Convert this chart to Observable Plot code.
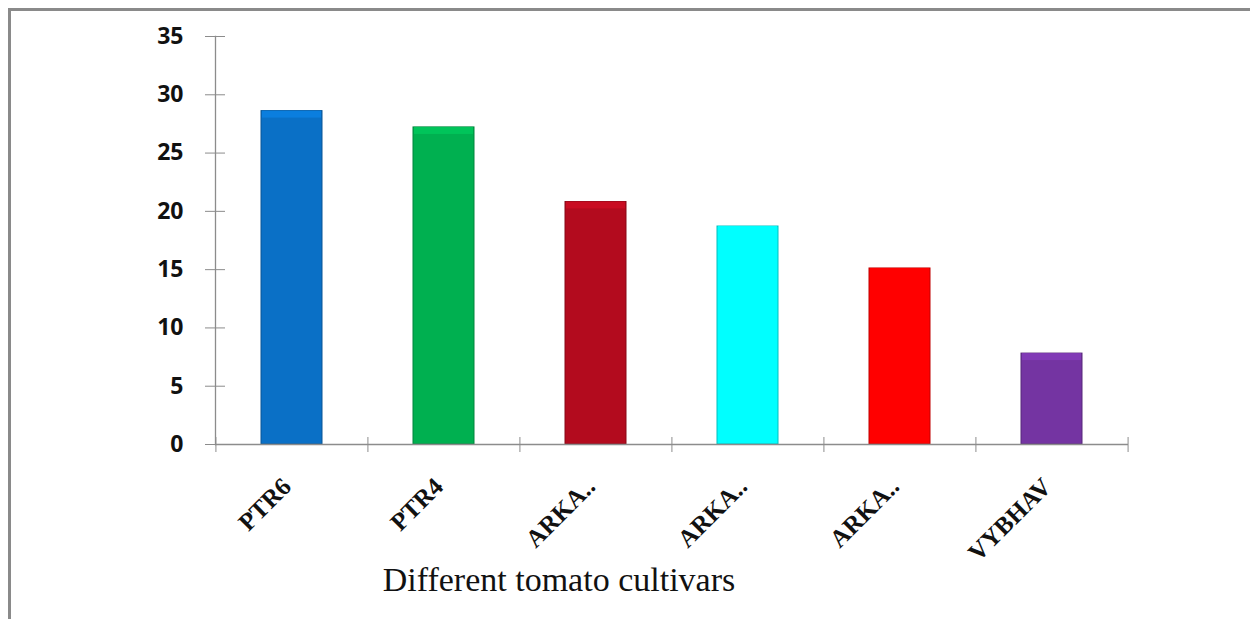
<!DOCTYPE html>
<html><head><meta charset="utf-8">
<script src="https://cdn.jsdelivr.net/npm/d3@7"></script>
<script src="https://cdn.jsdelivr.net/npm/@observablehq/plot@0.6"></script>
<style>
body{margin:0;background:#fff;}
#wrap{position:relative;width:1250px;height:619px;overflow:hidden;background:#fff;}
#frame{position:absolute;left:8px;top:8px;right:-10px;bottom:-10px;border-top:3px solid #8a8a8a;border-left:3px solid #8a8a8a;pointer-events:none;}
#title{position:absolute;left:0;width:1118px;top:561px;text-align:center;font-family:"Liberation Serif","Times New Roman",serif;font-size:34px;color:#111;}
#chart{position:absolute;left:0;top:0;}
</style></head>
<body>
<div id="wrap"><div id="chart"></div><div id="frame"></div><div id="title">Different tomato cultivars</div></div>
<script>
const cultivars = ["PTR6", "PTR4", "ARKA-1", "ARKA-2", "ARKA-3", "VYBHAV"];
const tickLabels = ["PTR6", "PTR4", "ARKA..", "ARKA..", "ARKA..", "VYBHAV"];
const values = [28.6, 27.2, 20.8, 18.7, 15.1, 7.8];
const colors = ["#0A70C6", "#00B050", "#B30B1E", "#00FFFF", "#FF0000", "#7434A2"];
const yTicks = [0, 5, 10, 15, 20, 25, 30, 35];

const W = 1250, H = 619, mL = 215, mR = 122, mT = 36, mB = 175;
const step = (W - mL - mR) / cultivars.length;
const data = cultivars.map((c, i) => ({c, v: values[i], col: colors[i]}));
const axisGray = "#8c8c8c";
const blank = () => "";

const plot = Plot.plot({
  width: W, height: H,
  marginLeft: mL, marginRight: mR, marginTop: mT, marginBottom: mB,
  style: {background: "transparent"},
  x: {domain: cultivars, paddingInner: 0.6, paddingOuter: 0.3, axis: null, label: null},
  y: {domain: [0, 35], axis: null, label: null},
  marks: [
    Plot.barY(data, {x: "c", y: "v", fill: "col",
      stroke: d => d3.color(d.col).darker(0.8).formatHex(), strokeWidth: 1}),
    Plot.barY(data, {x: "c", y1: "v", y2: "v", insetBottom: -7, insetLeft: 1, insetRight: 1,
      fill: d => d3.color(d.col).brighter(0.35).formatHex(), fillOpacity: 0.9}),
    Plot.ruleY([0], {stroke: axisGray, strokeWidth: 1.3}),
    Plot.frame({anchor: "left", stroke: axisGray, strokeWidth: 1.3}),
    Plot.axisY({ticks: yTicks, tickSize: 20, dx: 10, stroke: axisGray, tickFormat: blank, label: null}),
    Plot.axisY({ticks: yTicks, tickSize: 0, tickPadding: 32, fontSize: 23, fontWeight: 700,
      fontFamily: "Open Sans", fill: "#111", label: null}),
    Plot.axisX({ticks: cultivars, tickSize: 15, dx: -step / 2, dy: -7, stroke: axisGray, tickFormat: blank, label: null}),
    Plot.axisX({ticks: [cultivars[cultivars.length - 1]], tickSize: 15, dx: step / 2, dy: -7, stroke: axisGray, tickFormat: blank, label: null}),
    Plot.axisX({ticks: cultivars, tickSize: 0, tickRotate: -45, tickPadding: 34, dx: -5, dy: 4,
      tickFormat: d => tickLabels[cultivars.indexOf(d)], label: null,
      fontSize: 25, fontWeight: 700, fontFamily: "Liberation Serif", fill: "#111"})
  ]
});
document.getElementById("chart").appendChild(plot);
</script>
</body></html>
